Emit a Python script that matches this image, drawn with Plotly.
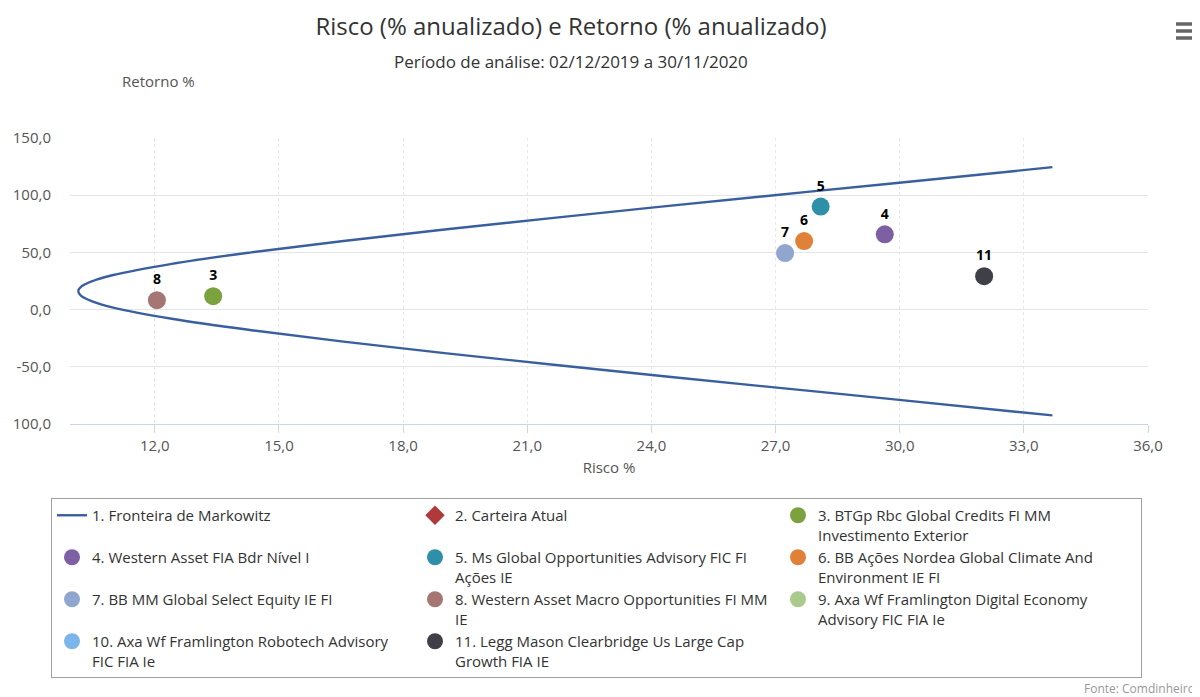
import plotly.graph_objects as go

# ---- data ----
frontier_risk = [33.69, 29.75, 26.97, 24.24, 21.58, 19.00, 16.56, 14.33, 12.41, 10.97, 10.50, 10.22, 10.15,
                 10.22, 10.50, 10.97, 12.41, 14.33, 16.56, 19.00, 21.58, 24.24, 26.97, 29.75, 33.69]
frontier_ret = [124.5, 110, 100, 90, 80, 70, 60, 50, 40, 30, 25, 20, 16,
                12, 7, 2, -8, -18, -28, -38, -48, -58, -68, -78, -92.5]

names = [
    "2. Carteira Atual",
    "3. BTGp Rbc Global Credits FI MM<br>Investimento Exterior",
    "4. Western Asset FIA Bdr Nível I",
    "5. Ms Global Opportunities Advisory FIC FI<br>Ações IE",
    "6. BB Ações Nordea Global Climate And<br>Environment IE FI",
    "7. BB MM Global Select Equity IE FI",
    "8. Western Asset Macro Opportunities FI MM<br>IE",
    "9. Axa Wf Framlington Digital Economy<br>Advisory FIC FIA Ie",
    "10. Axa Wf Framlington Robotech Advisory<br>FIC FIA Ie",
    "11. Legg Mason Clearbridge Us Large Cap<br>Growth FIA IE",
]
labels = ["2", "3", "4", "5", "6", "7", "8", "9", "10", "11"]
risk = [None, 13.41, 29.64, 28.09, 27.69, 27.23, 12.05, None, None, 32.04]
ret = [None, 11.7, 65.8, 90.1, 59.9, 49.4, 8.2, None, None, 29.2]
colors = ["#b0393b", "#7ba23f", "#7e5fa3", "#2e8fa8", "#e0813a", "#90a6cf", "#a57673", "#a9c98d", "#7cb5ec", "#3e3f47"]
symbols = ["diamond", "circle", "circle", "circle", "circle", "circle", "circle", "circle", "circle", "circle"]

y_tickvals = [150, 100, 50, 0, -50, -100]
y_ticktext = ["150,0", "100,0", "50,0", "0,0", "-50,0", "100,0"]
x_tickvals = [12, 15, 18, 21, 24, 27, 30, 33, 36]
x_ticktext = ["12,0", "15,0", "18,0", "21,0", "24,0", "27,0", "30,0", "33,0", "36,0"]

FONT = "Open Sans, Noto Sans, sans-serif"
OFF = 8  # default page body margin
W, H = 1200 - OFF, 697 - OFF
# plot area in page pixels: x 70..1148, y 138..424
L, R, T, B = 70 - OFF, 1200 - 1148, 138 - OFF, 697 - 424
PW, PH = W - L - R, H - T - B


def px_x(p):
    return (p - OFF - L) / PW


def px_y(p):
    return (H - B - (p - OFF)) / PH


fig = go.Figure()
fig.add_trace(go.Scatter(
    x=frontier_risk, y=frontier_ret, mode="lines", name="1. Fronteira de Markowitz",
    line=dict(color="#3a5f9e", width=2.4, shape="spline"), hoverinfo="skip"))

for i, nm in enumerate(names):
    fig.add_trace(go.Scatter(
        x=[risk[i]], y=[ret[i]], mode="markers+text", name=nm,
        text=[labels[i]], textposition="top center",
        textfont=dict(family=FONT, size=14, color="#000000", weight="bold"),
        marker=dict(color=colors[i], size=18 if symbols[i] == "circle" else 15, symbol=symbols[i]),
    ))

menu_shapes = [
    dict(type="line", xref="paper", yref="paper", x0=px_x(1176), x1=px_x(1195), y0=px_y(yy), y1=px_y(yy),
         line=dict(color="#666666", width=3.5))
    for yy in (24, 31, 38)
]

fig.update_layout(
    width=W, height=H,
    paper_bgcolor="white", plot_bgcolor="white",
    font=dict(family=FONT, color="#333333", size=15),
    margin=dict(l=L, r=R, t=T, b=B, autoexpand=False),
    title=dict(text="Risco (% anualizado) e Retorno (% anualizado)", x=(571 - OFF) / W, xanchor="center",
               y=1 - (27 - OFF) / H, yanchor="middle", font=dict(size=24, color="#333333")),
    showlegend=True,
    legend=dict(orientation="h", x=px_x(51), xanchor="left", y=px_y(498), yanchor="top",
                bordercolor="#a0a0a0", borderwidth=1, bgcolor="white",
                entrywidth=318, entrywidthmode="pixels", valign="top",
                font=dict(size=15, color="#333333"), tracegroupgap=0, itemsizing="trace"),
    xaxis=dict(range=[9.95, 36], tickvals=x_tickvals, ticktext=x_ticktext, automargin=False,
               showgrid=True, gridcolor="#e6e6ee", griddash="dot", zeroline=False,
               showline=True, linecolor="#ccd6eb", linewidth=1,
               ticks="outside", ticklen=8, tickcolor="#ccd6eb",
               tickfont=dict(size=15, color="#555555"),
               title=dict(text="Risco %", font=dict(size=15, color="#555555"), standoff=8)),
    yaxis=dict(range=[-100, 150], tickvals=y_tickvals, ticktext=y_ticktext, automargin=False,
               showgrid=True, gridcolor="#e6e6e6", zeroline=False, showline=False,
               tickfont=dict(size=15, color="#555555"), ticklabelstandoff=18),
    shapes=menu_shapes,
    annotations=[
        dict(text="Período de análise: 02/12/2019 a 30/11/2020", xref="paper", yref="paper",
             x=px_x(571), y=px_y(61), xanchor="center", yanchor="middle", showarrow=False,
             font=dict(size=17, color="#333333")),
        dict(text="Retorno %", xref="paper", yref="paper", x=px_x(158), y=px_y(81),
             xanchor="center", yanchor="middle", showarrow=False, font=dict(size=15, color="#555555")),
        dict(text="Fonte: Comdinheiro", xref="paper", yref="paper", x=px_x(1197), y=px_y(688),
             xanchor="right", yanchor="middle", showarrow=False, font=dict(size=12, color="#999999")),
    ],
)

fig.write_html("out.html", config={"displayModeBar": False})
